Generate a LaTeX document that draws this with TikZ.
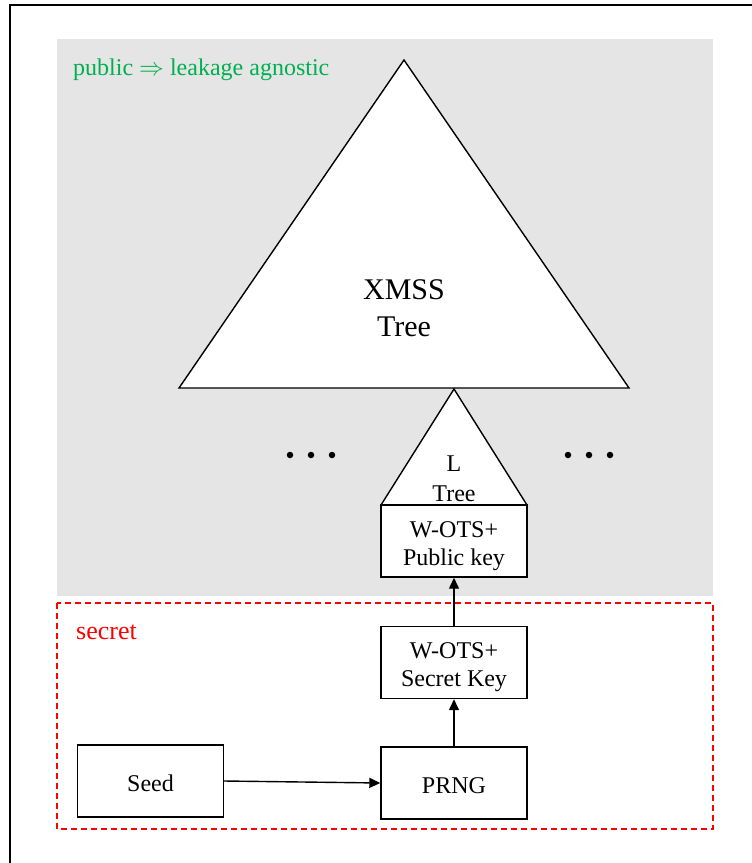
\documentclass[tikz,border=0pt]{standalone}
\usepackage{fontspec}
\setmainfont{Liberation Serif}
\usetikzlibrary{arrows.meta}
\definecolor{panelgray}{RGB}{229,229,229}
\definecolor{pubgreen}{RGB}{0,176,80}
\definecolor{secred}{RGB}{255,0,0}
\begin{document}
\begin{tikzpicture}[x=1pt,y=-1pt,
  lw/.style={line width=1.4pt},
  box/.style={draw, lw, fill=white, rectangle, minimum width=146pt,
    minimum height=72pt, inner sep=0pt},
  boxtext/.style={align=center, inner sep=0pt,
    font=\fontsize{24}{28}\selectfont},
  flow/.style={lw, -{Triangle[length=11pt,width=10pt]}},
  tri/.style={draw, lw, fill=white, line join=miter},
  dot/.style={fill=black, circle, inner sep=0pt, minimum size=6.5pt},
  label/.style={anchor=base west, inner sep=0pt, font=\fontsize{24}{28}\selectfont}]
  \useasboundingbox (0,0) rectangle (752,863);
  % outer frame (top and left edges)
  \coordinate (frameTL) at (10,5);
  \coordinate (frameTR) at (752,5);
  \coordinate (frameBL) at (10,863);
  \draw[line width=2pt] (frameTR) -- (frameTL) -- (frameBL);

  % public area
  \fill[panelgray] (57,39) rectangle (713,596);
  \node[label, text=pubgreen] (pubtitle) at (73,75) {public $\Rightarrow$ leakage agnostic};

  % secret area
  \draw[lw, secred, dash pattern=on 6pt off 4pt] (57,603) rectangle (713,829);
  \node[label, text=secred, font=\fontsize{26}{30}\selectfont] (sectitle) at (76,639) {secret};

  % XMSS tree
  \coordinate (xtop) at (404,60);
  \coordinate (xright) at (629,388);
  \coordinate (xleft) at (179,388);
  \path[tri] (xtop) -- (xright) -- (xleft) -- cycle;
  \node[align=center, font=\fontsize{30}{37}\selectfont] (xmss) at (404,308) {XMSS\\Tree};

  % L tree
  \coordinate (ltop) at (454,389);
  \coordinate (lright) at (527,505);
  \coordinate (lleft) at (381,505);
  \path[tri] (ltop) -- (lright) -- (lleft) -- cycle;
  \node[align=center, font=\fontsize{24}{30}\selectfont] (ltree) at (454,478.5) {L\\Tree};

  % elided siblings
  \foreach \i/\x in {1/290,2/311,3/332} \node[dot] (ldot\i) at (\x,455) {};
  \foreach \i/\x in {1/568,2/589,3/610} \node[dot] (rdot\i) at (\x,455) {};

  % key chain
  \node[box] (pk) at (454,541) {};
  \node[box] (sk) at (454,662.5) {};
  \node[box] (prng) at (454,783) {};
  \node[box] (seed) at (150.5,781) {};
  \node[boxtext] (pktext) at ([yshift=-5pt]pk.center) {W-OTS+\\Public key};
  \node[boxtext] (sktext) at ([yshift=-5pt]sk.center) {W-OTS+\\Secret Key};
  \node[boxtext] (prngtext) at ([yshift=-3pt]prng.center) {PRNG};
  \node[boxtext] (seedtext) at ([yshift=-2pt]seed.center) {Seed};

  \draw[flow] (seed.east) -- (prng.west);
  \draw[flow] (prng.north) -- (sk.south);
  \draw[flow] (sk.north) -- (pk.south);
\end{tikzpicture}
\end{document}
